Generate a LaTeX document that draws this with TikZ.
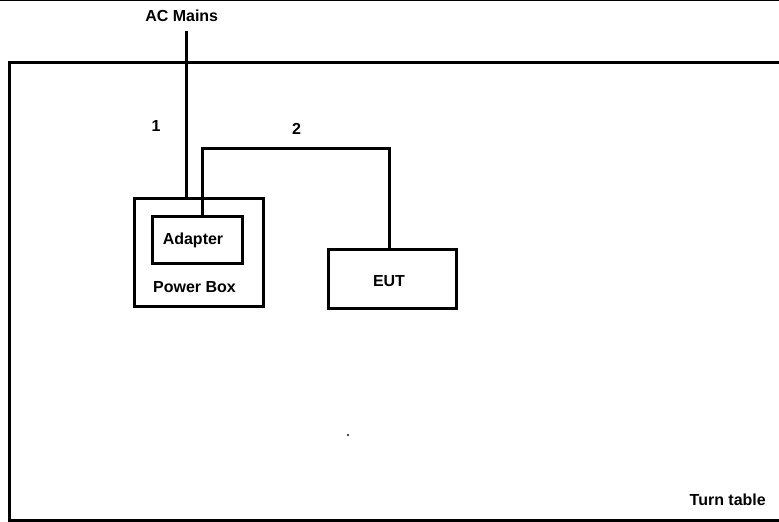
\documentclass[tikz,border=0pt]{standalone}
\usepackage{fontspec}
\setmainfont{Liberation Sans}
\begin{document}
\begin{tikzpicture}[x=1pt,y=-1pt,
  box/.style={draw=black,line width=3pt,minimum width=#1,inner sep=0pt,fill=none},
  lbl/.style={font=\bfseries\fontsize{16}{19}\selectfont,inner sep=0pt,text=black,anchor=base}]
\useasboundingbox (0,0) rectangle (779,522);
\clip (0,0) rectangle (779,522);
\fill[white] (0,0) rectangle (779,522);
% thin top line
\draw[line width=1.2pt] (0,0.6) -- (779,0.6);
% turn table
\draw[line width=3pt] (790,62) -- (9,62) -- (9,520) -- (790,520);
\node[lbl,anchor=base east] (tt) at (766,505.5) {Turn table};
% boxes
\node[box=129pt,minimum height=108pt] (pb) at (198.5,252) {};
\node[box=90pt,minimum height=47pt] (ad) at (197,239.5) {};
\node[box=128pt,minimum height=59pt] (eut) at (392,278.5) {};
\node[lbl] (adt) at (193,244) {Adapter};
\node[lbl] (pbt) at (194.5,292) {Power Box};
\node[lbl] (eutt) at (389,286.5) {EUT};
% labels
\node[lbl] (acm) at (181.7,21.7) {AC Mains};
\node[lbl] (n1) at (156,131.7) {1};
\node[lbl] (n2) at (296.5,134) {2};
% wires
\coordinate (w1top) at (186,31);
\coordinate (w2a) at (202,148);
\coordinate (w2b) at (389,148);
\draw[line width=3pt] (w1top) -- (w1top |- pb.north);
\draw[line width=3pt] (w2a |- ad.north) -- (w2a) -- (w2b) -- (w2b |- eut.north);
% small speck
\fill[black!70] (347,434) rectangle (349,436);
\end{tikzpicture}
\end{document}
